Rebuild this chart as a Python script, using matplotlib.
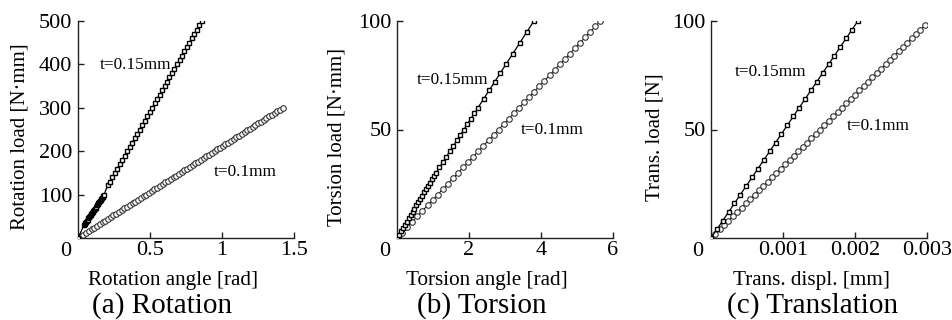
import numpy as np
import matplotlib
matplotlib.use("Agg")
import matplotlib.pyplot as plt

plt.rcParams['font.family'] = ['Liberation Serif', 'DejaVu Serif']

# (a) rotation: load [N*mm] vs angle [rad]
rot_load_015 = [0, 30, 32.5, 35, 37.5, 40, 42.5, 45, 47.5, 50, 52.5, 55, 57.5, 60, 62.5, 65,
                67.5, 70, 72.5, 75, 77.5, 80, 82.5, 85, 87.5, 90, 92.5, 95, 97.5, 100,
                122, 130, 140, 150, 160, 170, 180, 190, 200, 210, 220, 230, 240, 250, 260,
                270, 280, 290, 300, 310, 320, 330, 340, 350, 360, 370, 380, 390, 400, 410,
                420, 430, 440, 450, 460, 470, 480, 490, 500]
rot_ang_015 = [0, 0.042, 0.047, 0.052, 0.057, 0.062, 0.067, 0.072, 0.077, 0.082, 0.087, 0.092,
               0.097, 0.102, 0.107, 0.112, 0.117, 0.122, 0.127, 0.132, 0.137, 0.142, 0.147,
               0.152, 0.157, 0.162, 0.167, 0.172, 0.177, 0.182,
               0.206, 0.220, 0.238, 0.255, 0.272, 0.289, 0.307, 0.324, 0.341, 0.359, 0.376,
               0.393, 0.411, 0.428, 0.445, 0.462, 0.480, 0.497, 0.514, 0.532, 0.549, 0.566,
               0.584, 0.601, 0.618, 0.635, 0.653, 0.670, 0.687, 0.705, 0.722, 0.739, 0.757,
               0.774, 0.791, 0.808, 0.826, 0.843, 0.860]
rot_load_01 = [0, 4, 8, 12, 16, 20, 24, 28, 32, 36, 40, 44, 48, 52, 56, 60, 64, 68, 72, 76,
               80, 84, 88, 92, 96, 100, 104, 108, 112, 116, 120, 124, 128, 132, 136, 140,
               144, 148, 152, 156, 160, 164, 168, 172, 176, 180, 184, 188, 192, 196, 200,
               204, 208, 212, 216, 220, 224, 228, 232, 236, 240, 244, 248, 252, 256, 260,
               264, 268, 272, 276, 280, 284, 288, 292, 296, 300]
rot_ang_01 = [0.000, 0.019, 0.038, 0.057, 0.076, 0.095, 0.114, 0.133, 0.152, 0.171, 0.190,
              0.209, 0.228, 0.246, 0.265, 0.284, 0.303, 0.322, 0.341, 0.360, 0.379, 0.398,
              0.417, 0.436, 0.455, 0.474, 0.493, 0.512, 0.531, 0.550, 0.569, 0.588, 0.607,
              0.626, 0.645, 0.664, 0.683, 0.702, 0.720, 0.739, 0.758, 0.777, 0.796, 0.815,
              0.834, 0.853, 0.872, 0.891, 0.910, 0.929, 0.948, 0.967, 0.986, 1.005, 1.024,
              1.043, 1.062, 1.081, 1.100, 1.119, 1.138, 1.157, 1.176, 1.194, 1.213, 1.232,
              1.251, 1.270, 1.289, 1.308, 1.327, 1.346, 1.365, 1.384, 1.403, 1.422]

# (b) torsion: load [N*mm] vs angle [rad]
tor_load_015 = [0, 1.5, 3, 4.5, 6, 7.5, 9, 10.5, 12, 13.5, 15, 16.5, 18, 19.5, 21, 22.5, 24,
                25.5, 27, 28.5, 30, 32.5, 35, 37.5, 40, 42.5, 45, 47.5, 50, 52.5, 55, 57.5,
                60, 64, 68, 72, 76, 80, 85, 90, 95, 100]
tor_ang_015 = [0, 0.054, 0.108, 0.162, 0.216, 0.270, 0.324, 0.378, 0.432, 0.486, 0.540,
               0.594, 0.648, 0.702, 0.756, 0.810, 0.864, 0.918, 0.972, 1.026, 1.080,
               1.177, 1.275, 1.372, 1.469, 1.566, 1.664, 1.761, 1.858, 1.955, 2.053, 2.150,
               2.247, 2.403, 2.558, 2.714, 2.869, 3.025, 3.220, 3.414, 3.609, 3.803]
tor_load_01 = [0, 2.5, 5, 7.5, 10, 12.5, 15, 17.5, 20, 22.5, 25, 27.5, 30, 32.5, 35, 37.5,
               40, 42.5, 45, 47.5, 50, 52.5, 55, 57.5, 60, 62.5, 65, 67.5, 70, 72.5, 75,
               77.5, 80, 82.5, 85, 87.5, 90, 92.5, 95, 97.5, 100]
tor_ang_01 = [0, 0.141, 0.283, 0.424, 0.565, 0.706, 0.848, 0.989, 1.130, 1.271, 1.413, 1.554,
              1.695, 1.836, 1.978, 2.119, 2.260, 2.401, 2.543, 2.684, 2.825, 2.966, 3.108,
              3.249, 3.390, 3.531, 3.673, 3.814, 3.955, 4.096, 4.238, 4.379, 4.520, 4.661,
              4.803, 4.944, 5.085, 5.226, 5.368, 5.509, 5.650]

# (c) translation: load [N] vs displacement [1e-3 mm]
tr_load_015 = [0, 4, 8, 12, 16, 20, 24, 28, 32, 36, 40, 44, 48, 52, 56, 60, 64, 68, 72, 76,
               80, 84, 88, 92, 96, 100]
tr_disp_015 = [0, 0.082, 0.163, 0.245, 0.326, 0.408, 0.490, 0.571, 0.653, 0.734, 0.816,
               0.898, 0.979, 1.061, 1.142, 1.224, 1.306, 1.387, 1.469, 1.550, 1.632, 1.714,
               1.795, 1.877, 1.958, 2.040]
tr_load_01 = [0, 2, 4, 6, 8, 10, 12, 14, 16, 18, 20, 22, 24, 26, 28, 30, 32, 34, 36, 38, 40,
              42, 44, 46, 48, 50, 52, 54, 56, 58, 60, 62, 64, 66, 68, 70, 72, 74, 76, 78, 80,
              82, 84, 86, 88, 90, 92, 94, 96, 98]
tr_disp_01 = [0, 0.061, 0.121, 0.182, 0.242, 0.303, 0.364, 0.424, 0.485, 0.545, 0.606, 0.667,
              0.727, 0.788, 0.848, 0.909, 0.970, 1.030, 1.091, 1.151, 1.212, 1.273, 1.333,
              1.394, 1.454, 1.515, 1.576, 1.636, 1.697, 1.757, 1.818, 1.879, 1.939, 2.000,
              2.060, 2.121, 2.182, 2.242, 2.303, 2.363, 2.424, 2.485, 2.545, 2.606, 2.666,
              2.727, 2.788, 2.848, 2.909, 2.969]

W, H = 953, 320
fig = plt.figure(figsize=(9.53, 3.2), dpi=100)

def px_x(p):
    return p / W

def px_y(p):
    return 1 - p / H

panels = [
    dict(left=78, x015=rot_ang_015, y015=rot_load_015, x01=rot_ang_01, y01=rot_load_01,
         xlim=1.5, ylim=500, xticks=[0.5, 1, 1.5], xtl=['0.5', '1', '1.5'],
         yticks=[100, 200, 300, 400, 500], ylabel='Rotation load [N·mm]', ylab_x=20,
         xlabel='Rotation angle [rad]', xlab_c=173, sub='(a) Rotation', sub_c=162,
         t015=(0.40, 399), t01=(1.16, 152), zero_dx=-12),
    dict(left=397, x015=tor_ang_015, y015=tor_load_015, x01=tor_ang_01, y01=tor_load_01,
         xlim=6, ylim=100, xticks=[2, 4, 6], xtl=['2', '4', '6'],
         yticks=[50, 100], ylabel='Torsion load [N·mm]', ylab_x=337,
         xlabel='Torsion angle [rad]', xlab_c=487, sub='(b) Torsion', sub_c=482,
         t015=(1.53, 72.8), t01=(4.31, 49.8), zero_dx=-12),
    dict(left=711, x015=np.array(tr_disp_015) * 1e-3, y015=tr_load_015,
         x01=np.array(tr_disp_01) * 1e-3, y01=tr_load_01,
         xlim=0.003, ylim=100, xticks=[0.001, 0.002, 0.003], xtl=['0.001', '0.002', '0.003'],
         yticks=[50, 100], ylabel='Trans. load [N]', ylab_x=655,
         xlabel='Trans. displ. [mm]', xlab_c=812, sub='(c) Translation', sub_c=813,
         t015=(0.000833, 76.5), t01=(0.00232, 51.6), zero_dx=-13),
]

ax_top, ax_bot, ax_w = 21, 238, 216

for p in panels:
    ax = fig.add_axes([px_x(p['left']), px_y(ax_bot), ax_w / W, (ax_bot - ax_top) / H])
    ax.plot(p['x01'], p['y01'], color='black', lw=0.7, marker='o', ms=4.0,
            mfc='white', mec='#333333', mew=0.8, zorder=2)
    ax.plot(p['x015'], p['y015'], color='black', lw=0.9, marker='s', ms=3.4,
            mfc='white', mec='black', mew=1.0, zorder=3)
    ax.set_xlim(0, p['xlim'])
    ax.set_ylim(0, p['ylim'])
    ax.set_xticks(p['xticks'])
    ax.set_xticklabels(p['xtl'])
    ax.set_yticks(p['yticks'])
    ax.spines['top'].set_visible(False)
    ax.spines['right'].set_visible(False)
    for s in ['left', 'bottom']:
        ax.spines[s].set_linewidth(1.0)
        ax.spines[s].set_color('#222222')
    ax.tick_params(direction='in', length=4, width=1.0, labelsize=16, pad=4, colors='#222222')
    ax.tick_params(axis='x', pad=2)
    for lab in ax.get_xticklabels() + ax.get_yticklabels():
        lab.set_color('black')
    ax.annotate('0', xy=(0, 0), xytext=(p['zero_dx'], -14), textcoords='offset pixels',
                ha='center', va='center', fontsize=16, annotation_clip=False)
    ax.text(*p['t015'], 't=0.15mm', ha='center', va='center', fontsize=12.4)
    ax.text(*p['t01'], 't=0.1mm', ha='center', va='center', fontsize=12.4)
    fig.text(px_x(p['ylab_x']), px_y(137), p['ylabel'], rotation=90,
             ha='center', va='center', fontsize=15)
    fig.text(px_x(p['xlab_c']), px_y(280), p['xlabel'], ha='center', va='center', fontsize=15.2)
    fig.text(px_x(p['sub_c']), px_y(306), p['sub'], ha='center', va='center', fontsize=21)

fig.savefig('out.png', dpi=100)
